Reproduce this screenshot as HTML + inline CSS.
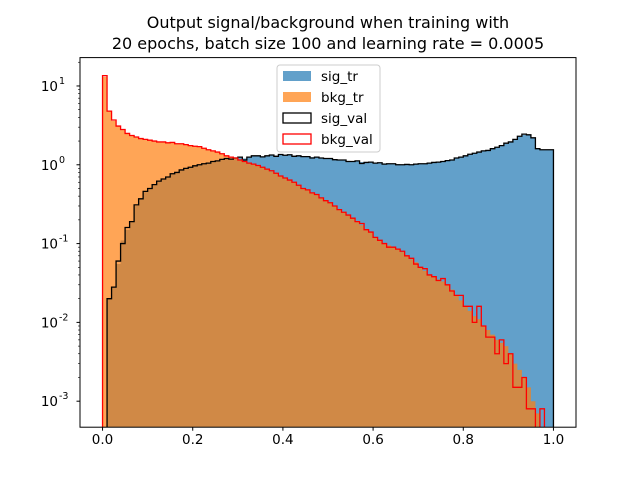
<!DOCTYPE html>
<html><head><meta charset="utf-8"><style>
body{margin:0;background:#fff}
svg{font-family:"DejaVu Sans","Liberation Sans",sans-serif}
</style></head><body>
<svg id="c" width="640" height="480" viewBox="0 0 640 480">
<text x="328" y="28" font-size="16" text-anchor="middle">Output signal/background when training with</text>
<text x="328" y="49" font-size="16" text-anchor="middle">20 epochs, batch size 100 and learning rate = 0.0005</text>
<g id="plot"></g>
</svg>
<script>
const sigTr=[0,0.02,0.028,0.055,0.11,0.15,0.19,0.3,0.37,0.45,0.5,0.55,0.62,0.65,0.7,0.78,0.8,0.85,0.9,0.92,0.97,1.0,1.02,1.05,1.1,1.12,1.15,1.2,1.2,1.22,1.25,1.2,1.25,1.28,1.3,1.28,1.3,1.32,1.3,1.35,1.32,1.33,1.3,1.3,1.28,1.27,1.25,1.25,1.22,1.2,1.2,1.18,1.15,1.15,1.12,1.1,1.1,1.08,1.07,1.08,1.05,1.05,1.04,1.03,1.02,1.02,1.0,1.0,1.0,1.02,1.02,1.03,1.05,1.06,1.08,1.1,1.12,1.15,1.2,1.25,1.3,1.35,1.4,1.45,1.48,1.5,1.6,1.65,1.75,1.85,1.95,2.1,2.3,2.4,2.35,2.2,1.6,1.55,1.55,1.55];
const bkgTr=[13,4.8,3.6,3.1,2.8,2.5,2.35,2.25,2.15,2.1,2.05,2.0,1.95,1.95,1.9,1.9,1.85,1.85,1.8,1.75,1.72,1.68,1.62,1.55,1.5,1.45,1.38,1.3,1.25,1.2,1.15,1.1,1.05,1.02,0.98,0.93,0.88,0.82,0.78,0.72,0.68,0.63,0.6,0.55,0.5,0.48,0.44,0.42,0.38,0.35,0.33,0.3,0.27,0.25,0.23,0.21,0.19,0.17,0.15,0.14,0.12,0.11,0.1,0.095,0.09,0.085,0.078,0.07,0.063,0.058,0.05,0.045,0.04,0.038,0.035,0.033,0.03,0.026,0.022,0.019,0.016,0.014,0.012,0.011,0.009,0.008,0.007,0.006,0.0055,0.005,0.004,0.003,0.0025,0.002,0.0015,0.001,0.0007,0,0,0];
const sigVal=[0,0.02,0.028,0.06,0.1,0.16,0.19,0.31,0.37,0.46,0.5,0.56,0.62,0.66,0.7,0.77,0.8,0.86,0.9,0.93,0.97,1.0,1.03,1.05,1.1,1.12,1.17,1.2,1.18,1.22,1.25,1.15,1.25,1.3,1.3,1.26,1.3,1.33,1.28,1.35,1.32,1.34,1.28,1.3,1.27,1.27,1.22,1.25,1.22,1.2,1.2,1.16,1.15,1.15,1.1,1.1,1.12,1.04,1.07,1.08,1.05,1.06,1.02,1.03,1.03,1.0,1.0,1.01,1.0,1.02,1.03,1.03,1.05,1.07,1.08,1.1,1.13,1.15,1.22,1.25,1.3,1.36,1.4,1.45,1.5,1.52,1.6,1.67,1.75,1.88,1.95,2.1,2.3,2.45,2.4,2.2,1.6,1.55,1.55,1.55];
const bkgVal=[13.5,4.8,3.7,3.1,2.8,2.5,2.35,2.25,2.15,2.1,2.05,2.0,1.95,1.95,1.9,1.92,1.85,1.85,1.8,1.75,1.72,1.7,1.62,1.55,1.5,1.45,1.38,1.3,1.25,1.22,1.15,1.1,1.05,1.02,0.98,0.93,0.88,0.84,0.78,0.72,0.68,0.64,0.6,0.55,0.5,0.48,0.44,0.42,0.38,0.35,0.33,0.3,0.27,0.25,0.23,0.21,0.19,0.18,0.15,0.14,0.12,0.11,0.1,0.09,0.09,0.085,0.08,0.07,0.065,0.055,0.05,0.048,0.04,0.038,0.034,0.036,0.03,0.025,0.022,0.022,0.016,0.016,0.01,0.016,0.009,0.0065,0.0065,0.004,0.006,0.003,0.004,0.0015,0.0015,0.002,0.0008,0.0008,0,0.0008,0,0];
const yTicks=[0.001,0.01,0.1,1,10];
const yTickExp=["-3","-2","-1","0","1"];
const xTicks=[0,0.2,0.4,0.6,0.8,1.0];
const xTickLabels=["0.0","0.2","0.4","0.6","0.8","1.0"];

const L=80,R=576,T=57.6,B=427.2;
const X0=-0.05,X1=1.05,LY0=-3.33,LY1=1.36;
const sx=v=>L+(v-X0)/(X1-X0)*(R-L);
const sy=v=>{if(v<=0)return B+5;const l=Math.log10(v);return B-(l-LY0)/(LY1-LY0)*(B-T);};
const NS="http://www.w3.org/2000/svg";
const g=document.getElementById('plot');
function mk(t,a,p){const e=document.createElementNS(NS,t);for(const k in a)e.setAttribute(k,a[k]);(p||g).appendChild(e);return e;}
const clip=mk('clipPath',{id:'cl'});mk('rect',{x:L,y:T,width:R-L,height:B-T},clip);
function stepPath(arr,closed){const n=arr.length;let d='';
 if(closed){d='M'+sx(0)+','+(B+5);}
 for(let i=0;i<n;i++){const x0=sx(i/n),x1=sx((i+1)/n),y=sy(arr[i]);
  d+=(d?'L':'M')+x0+','+y+'L'+x1+','+y;}
 d+='L'+sx(1)+','+(B+5);if(closed)d+='Z';return d;}
const p1=mk('path',{d:stepPath(sigTr,true),fill:'#1f77b4','fill-opacity':0.7,'clip-path':'url(#cl)'});


const p2=mk('path',{d:stepPath(bkgTr,true),fill:'#ff7f0e','fill-opacity':0.7,'clip-path':'url(#cl)'});


function stepLine(arr){const n=arr.length;let d='M'+sx(0)+','+(B+5);
 for(let i=0;i<n;i++){d+='L'+sx(i/n)+','+sy(arr[i])+'L'+sx((i+1)/n)+','+sy(arr[i]);}
 d+='L'+sx(1)+','+(B+5);return d;}
const p3=mk('path',{d:stepLine(sigVal),fill:'none',stroke:'#000','stroke-width':1.3,'clip-path':'url(#cl)'});


const p4=mk('path',{d:stepLine(bkgVal),fill:'none',stroke:'#f00','stroke-width':1.3,'clip-path':'url(#cl)'});


const fr=mk('rect',{x:L,y:T,width:R-L,height:B-T,fill:'none',stroke:'#000','stroke-width':1});


xTicks.forEach((v,i)=>{const x=sx(v);mk('line',{x1:x,x2:x,y1:B,y2:B+3.5,stroke:'#000'});
 const t=mk('text',{x:x,y:B+17,'font-size':13.5,'text-anchor':'middle'});t.textContent=xTickLabels[i];
 
 });
yTicks.forEach((v,i)=>{const y=sy(v);mk('line',{x1:L-3.5,x2:L,y1:y,y2:y,stroke:'#000'});
 const t=mk('text',{x:L-22,y:y+5,'font-size':13.5,'text-anchor':'end'});t.textContent='10';
 
 
 const s=mk('text',{x:L-21,y:y-2,'font-size':9.5,'text-anchor':'start'});s.textContent=yTickExp[i];
 for(let m=2;m<10;m++){const ym=sy(v*m);if(ym>T&&ym<B)mk('line',{x1:L-2,x2:L,y1:ym,y2:ym,stroke:'#000','stroke-width':0.6});}});
const lg=mk('g',{});


mk('rect',{x:277,y:65,width:103,height:87,rx:3,fill:'#fff','fill-opacity':0.8,stroke:'#ccc'},lg);
const items=[['sig_tr','#1f77b4',null],['bkg_tr','#ff7f0e',null],['sig_val','none','#000'],['bkg_val','none','#f00']];
items.forEach((it,i)=>{const y=71+i*21;
 const r=mk('rect',{x:283,y:y,width:28,height:10,fill:it[1],'fill-opacity':it[2]?1:0.7,stroke:it[2]||'none','stroke-width':1.3},lg);
 const t=mk('text',{x:321,y:y+10,'font-size':13.5},lg);t.textContent=it[0];
 
 });
</script>
</body></html>
